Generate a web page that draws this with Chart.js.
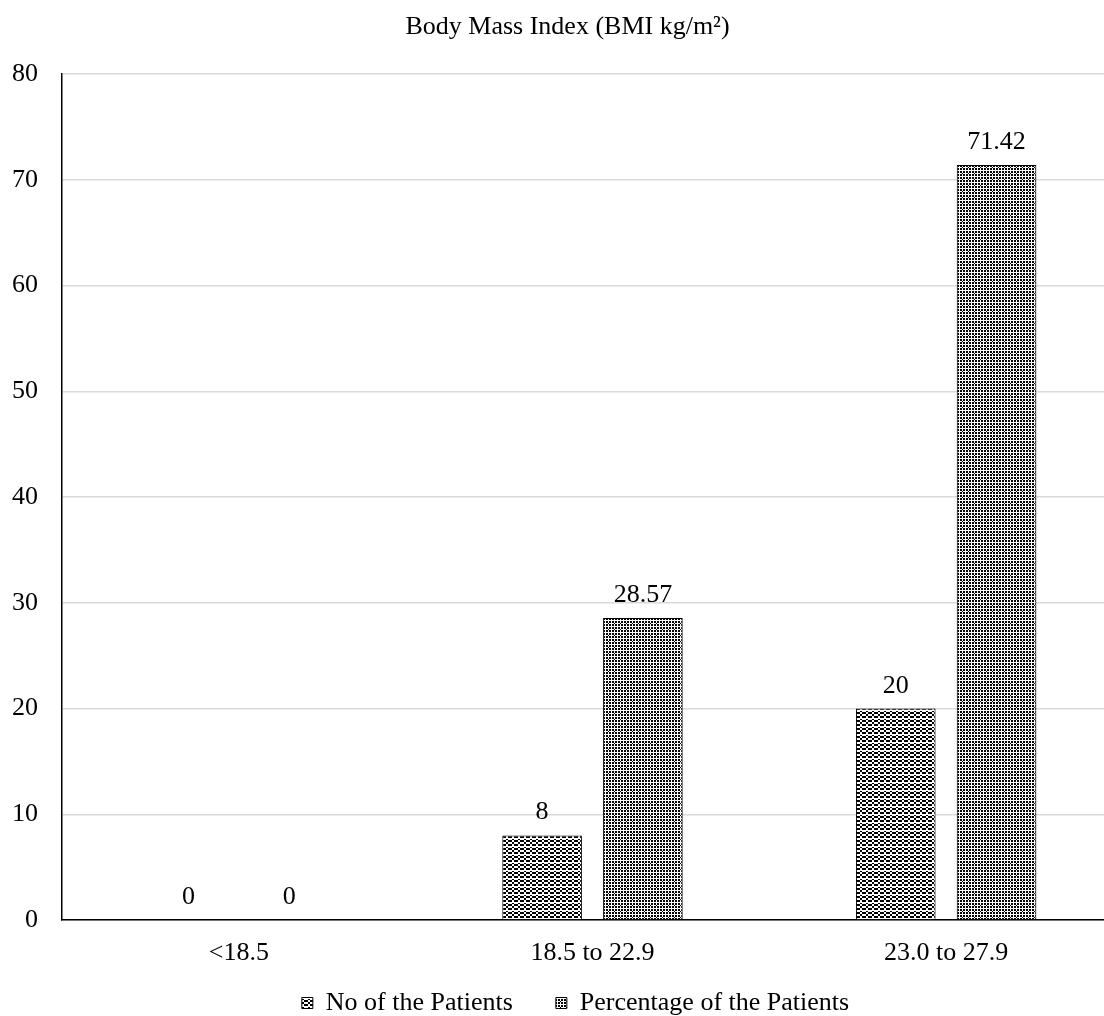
<!DOCTYPE html>
<html>
<head>
<meta charset="utf-8">
<script src="https://cdn.jsdelivr.net/npm/chart.js@4"></script>
<style>
  body { margin: 0; background: #fff; overflow: hidden; }
  #wrap { width: 1104px; height: 1016px; overflow: hidden; }
</style>
</head>
<body>
<div id="wrap"><canvas id="myChart" width="1123" height="1016"></canvas></div>
<script>
const categories = ['<18.5', '18.5 to 22.9', '23.0 to 27.9'];
const patients = [0, 8, 20];
const percentage = [0, 28.57, 71.42];
const yTicks = [0, 10, 20, 30, 40, 50, 60, 70, 80];
const seriesNames = ['No of the Patients', 'Percentage of the Patients'];

// small black/white tiles to mimic the hatch fills
const makePattern = (rows) => {
  const c = document.createElement('canvas');
  c.width = rows[0].length;
  c.height = rows.length;
  const g = c.getContext('2d');
  g.fillStyle = '#fff';
  g.fillRect(0, 0, c.width, c.height);
  g.fillStyle = '#000';
  rows.forEach((r, y) => {
    for (let x = 0; x < r.length; x++) {
      if (r[x] === '1') g.fillRect(x, y, 1, 1);
    }
  });
  return g.createPattern(c, 'repeat');
};

const patA = makePattern([
  '110011',
  '110011',
  '001100',
  '001100',
  '110011',
  '110011',
  '000000',
  '001100'
]);
const patB = makePattern([
  '110110',
  '110110',
  '000000',
  '110110',
  '110110',
  '001000'
]);

const font26 = { family: 'Liberation Serif', size: 26 };

const valueLabels = {
  id: 'valueLabels',
  afterDatasetsDraw(chart) {
    const ctx = chart.ctx;
    ctx.save();
    ctx.font = '26px "Liberation Serif"';
    ctx.fillStyle = '#000';
    ctx.textAlign = 'center';
    ctx.textBaseline = 'alphabetic';
    chart.data.datasets.forEach((ds, i) => {
      chart.getDatasetMeta(i).data.forEach((bar, j) => {
        ctx.fillText(String(ds.data[j]), bar.x, bar.y - 16);
      });
    });
    ctx.restore();
  }
};

// nudge the legend a little to the right, as in the original
const legendShift = {
  id: 'legendShift',
  afterLayout(chart) {
    if (chart.legend) {
      chart.legend.left += 8;
      chart.legend.right += 8;
    }
  }
};

const ctx = document.getElementById('myChart').getContext('2d');
new Chart(ctx, {
  type: 'bar',
  data: {
    labels: categories,
    datasets: [
      {
        label: seriesNames[0],
        data: patients,
        backgroundColor: patA,
        borderColor: '#000',
        borderWidth: 1,
        categoryPercentage: 0.57,
        barPercentage: 0.79
      },
      {
        label: seriesNames[1],
        data: percentage,
        backgroundColor: patB,
        borderColor: '#000',
        borderWidth: 1,
        categoryPercentage: 0.57,
        barPercentage: 0.79
      }
    ]
  },
  options: {
    responsive: false,
    animation: false,
    layout: { padding: { left: 12, right: 0, top: 4, bottom: -10 } },
    plugins: {
      title: {
        display: true,
        text: 'Body Mass Index (BMI kg/m²)',
        color: '#000',
        font: { family: 'Liberation Serif', size: 26, weight: 'normal' },
        padding: { top: 8, bottom: 31 }
      },
      legend: {
        position: 'bottom',
        labels: {
          color: '#000',
          font: font26,
          boxWidth: 11,
          boxHeight: 11,
          padding: 4,
          generateLabels: (chart) => {
            const items = Chart.defaults.plugins.legend.labels.generateLabels(chart);
            items[0].text = items[0].text + '      ';
            return items;
          }
        }
      },
      tooltip: { enabled: false }
    },
    scales: {
      x: {
        grid: { display: false },
        border: { color: '#000', width: 1.5 },
        ticks: { color: '#000', font: font26, padding: 10 },
        afterFit: (axis) => { axis.height = 66; }
      },
      y: {
        min: 0,
        max: 80,
        afterBuildTicks: (axis) => { axis.ticks = yTicks.map(v => ({ value: v })); },
        grid: { color: '#d9d9d9', lineWidth: 1.5, drawTicks: false },
        border: { color: '#000', width: 1.5 },
        ticks: { color: '#000', font: font26, padding: 24 },
        afterFit: (axis) => { axis.width = 50; }
      }
    }
  },
  plugins: [valueLabels, legendShift]
});
</script>
</body>
</html>
